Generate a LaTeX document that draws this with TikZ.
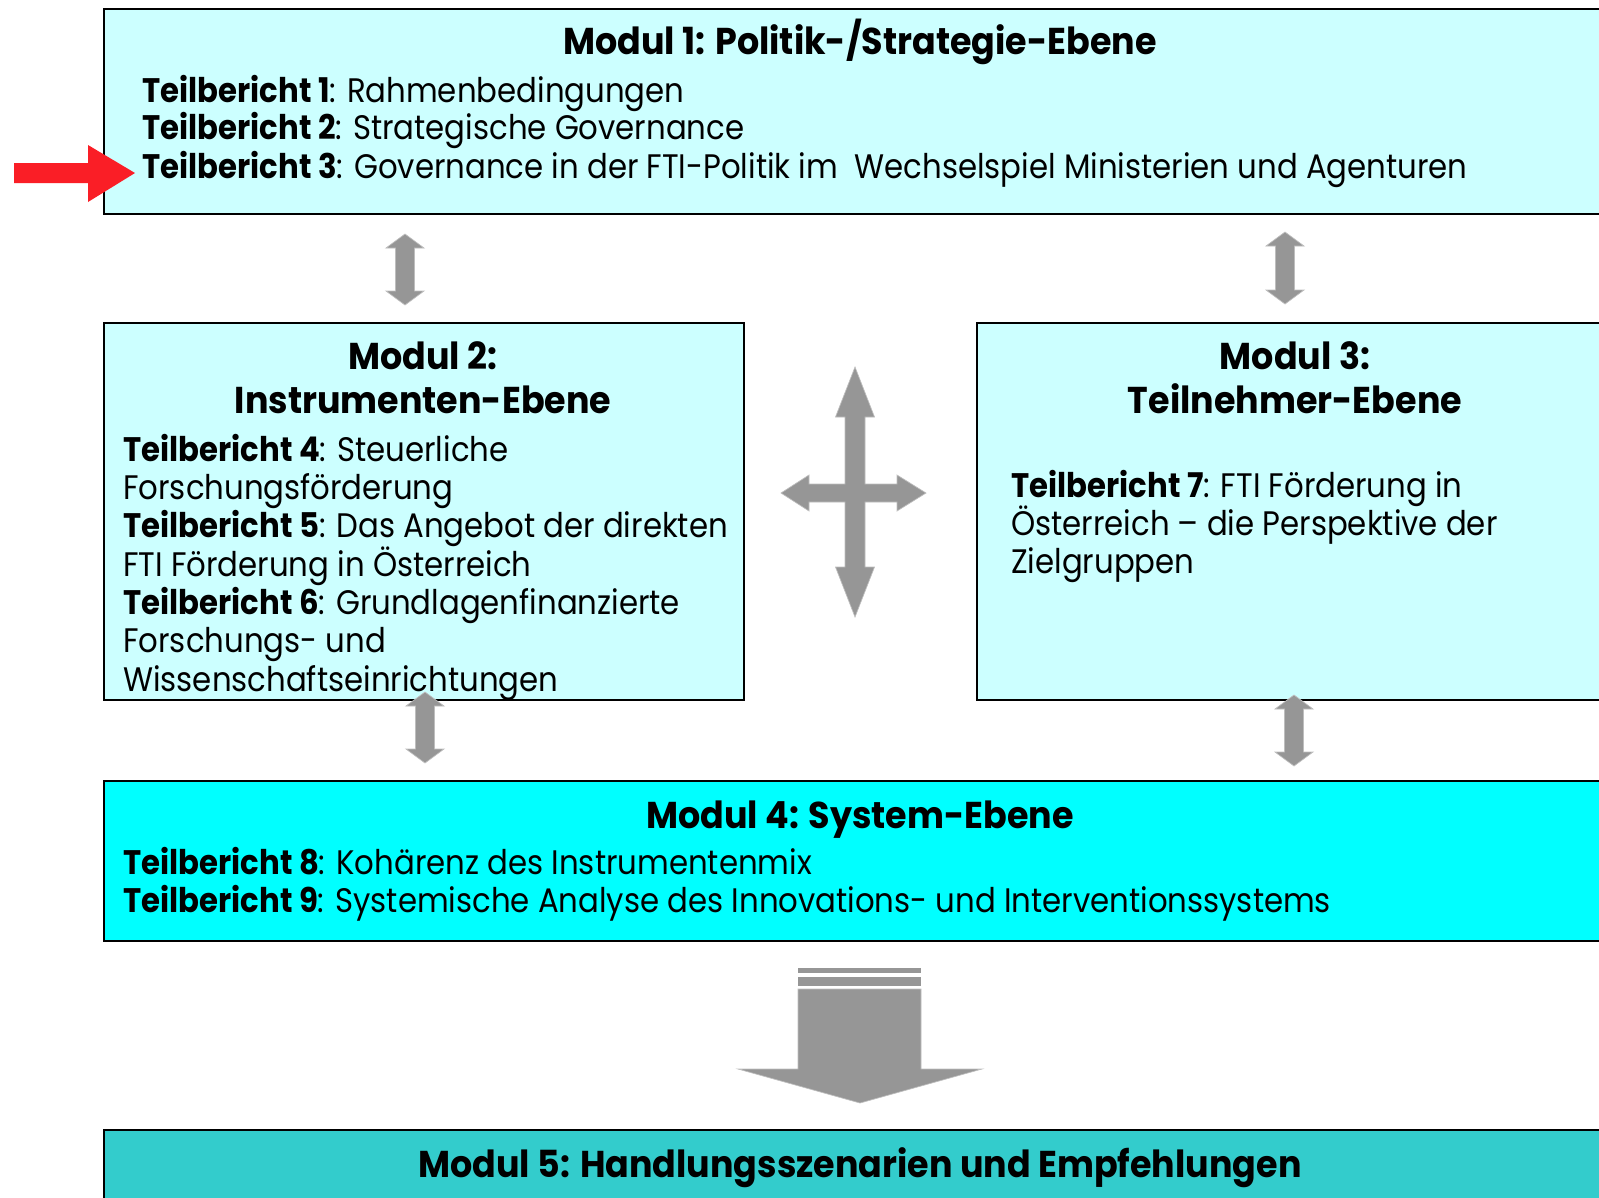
\documentclass[tikz,border=0pt]{standalone}
\usepackage{fontspec}
\setmainfont{Poppins}
\newfontfamily\bodyfam{Poppins}[FakeStretch=0.905]
\newfontfamily\titlefam{Poppins}[FakeStretch=0.935]
\definecolor{paleCyan}{HTML}{CCFFFF}
\definecolor{fullCyan}{HTML}{00FFFF}
\definecolor{tealBox}{HTML}{33CCCC}
\definecolor{arrGrey}{HTML}{969696}
\definecolor{arrEdge}{HTML}{BEBEBE}
\definecolor{redArr}{RGB}{250,30,38}
\newcommand\bodyfont{\bodyfam\fontsize{25.5}{30}\selectfont}
\newcommand\titlefont{\titlefam\fontsize{28}{33}\selectfont\bfseries}
\newcommand\vdarrow[3]{% x, top y, bottom y
  \fill[arrGrey, draw=arrEdge, line width=0.5pt]
    (#1,#2) -- ({#1+19},{#2+14}) -- ({#1+9.5},{#2+14}) -- ({#1+9.5},{#3-14})
    -- ({#1+19},{#3-14}) -- (#1,#3) -- ({#1-19},{#3-14}) -- ({#1-9.5},{#3-14})
    -- ({#1-9.5},{#2+14}) -- ({#1-19},{#2+14}) -- cycle;}
\begin{document}
\begin{tikzpicture}[x=0.75pt,y=-0.75pt,
  box/.style={draw=black, line width=1.5pt, inner sep=0pt, anchor=north west},
  txt/.style={anchor=base west, inner sep=0pt, font=\bodyfont},
  ttl/.style={anchor=base, inner sep=0pt, font=\titlefont}]
\useasboundingbox (0,0) rectangle (1599,1197);
\clip (0,0) rectangle (1599,1197);
\fill[white] (0,0) rectangle (1599,1197);
% boxes
\node[box, fill=paleCyan, minimum width=1152.75pt, minimum height=153.75pt] (m1) at (103,8) {};
\node[box, fill=paleCyan, minimum width=480pt, minimum height=282.75pt] (m2) at (103,322) {};
\node[box, fill=paleCyan, minimum width=498pt, minimum height=282.75pt] (m3) at (976,322) {};
\node[box, fill=fullCyan, minimum width=1152.75pt, minimum height=120pt] (m4) at (103,780) {};
\node[box, fill=tealBox, minimum width=1152.75pt, minimum height=90.75pt] (m5) at (103,1129) {};
% module 1
\node[ttl] (t1) at (860,54) {Modul 1: Politik-/Strategie-Ebene};
\node[txt] (l11) at (142,102) {\textbf{Teilbericht 1}: Rahmenbedingungen};
\node[txt] (l12) at (142,139) {\textbf{Teilbericht 2}: Strategische Governance};
\node[txt] (l13) at (142,178) {\textbf{Teilbericht 3}: Governance in der FTI-Politik im\ \ Wechselspiel Ministerien und Agenturen};
% module 2
\node[ttl] (t2a) at (423,369) {Modul 2:};
\node[ttl] (t2b) at (423,413) {Instrumenten-Ebene};
\node[txt] (l21) at (123,461) {\textbf{Teilbericht 4}: Steuerliche};
\node[txt] (l22) at (123,499) {Forschungsförderung};
\node[txt] (l23) at (123,537) {\textbf{Teilbericht 5}: Das Angebot der direkten};
\node[txt] (l24) at (123,576) {FTI Förderung in Österreich};
\node[txt] (l25) at (123,614) {\textbf{Teilbericht 6}: Grundlagenfinanzierte};
\node[txt] (l26) at (123,652) {Forschungs- und};
\node[txt] (l27) at (123,691) {Wissenschaftseinrichtungen};
% module 3
\node[ttl] (t3a) at (1295,369) {Modul 3:};
\node[ttl] (t3b) at (1295,413) {Teilnehmer-Ebene};
\node[txt] (l31) at (1011,497) {\textbf{Teilbericht 7}: FTI Förderung in};
\node[txt] (l32) at (1011,535) {Österreich – die Perspektive der};
\node[txt] (l33) at (1011,573) {Zielgruppen};
% module 4
\node[ttl] (t4) at (860,828) {Modul 4: System-Ebene};
\node[txt] (l41) at (123,874) {\textbf{Teilbericht 8}: Kohärenz des Instrumentenmix};
\node[txt] (l42) at (123,912) {\textbf{Teilbericht 9}: Systemische Analyse des Innovations- und Interventionssystems};
% module 5
\node[ttl] (t5) at (860,1177) {Modul 5: Handlungsszenarien und Empfehlungen};
% grey double arrows
\vdarrow{405}{234}{305}
\vdarrow{1285}{232}{304}
\vdarrow{425}{692}{763}
\vdarrow{1294}{695}{766}
% cross arrow
\fill[arrGrey, draw=arrEdge, line width=0.5pt]
  (855,367) -- (874.5,417) -- (865,417) -- (865,484) -- (897,484) -- (897,475)
  -- (926,493) -- (897,511) -- (897,502) -- (865,502) -- (865,567) -- (874.5,567)
  -- (855,617) -- (835.5,567) -- (845,567) -- (845,502) -- (809,502) -- (809,511)
  -- (781,493) -- (809,475) -- (809,484) -- (845,484) -- (845,417) -- (835.5,417) -- cycle;
% big down arrow
\fill[arrGrey] (798,968) rectangle (921,973);
\fill[arrGrey] (798,977) rectangle (921,986);
\fill[arrGrey, draw=arrEdge, line width=0.5pt]
  (798,989) -- (921,989) -- (921,1069) -- (982,1069) -- (860,1103)
  -- (738,1069) -- (798,1069) -- cycle;
% red pointer
\fill[redArr] (14,163) -- (88,163) -- (88,145) -- (135,173) -- (88,202) -- (88,183) -- (14,183) -- cycle;
\end{tikzpicture}
\end{document}
